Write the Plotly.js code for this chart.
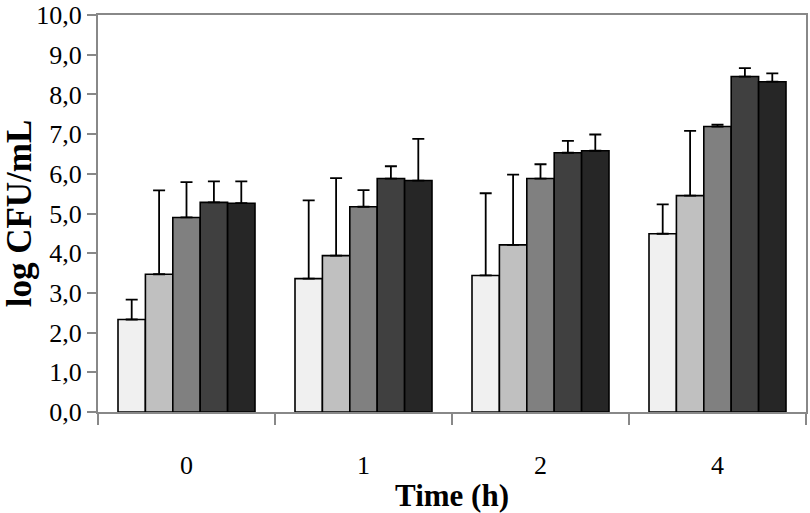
<!DOCTYPE html>
<html>
<head>
<meta charset="utf-8">
<script src="https://cdn.plot.ly/plotly-3.0.1.min.js"></script>
<style>html,body{margin:0;padding:0;background:#fff;}#chart{width:810px;height:513px;}</style>
</head>
<body>
<div id="chart"></div>
<script>
const times = ['0', '1', '2', '4'];
const s1 = [2.33, 3.36, 3.44, 4.49];
const s2 = [3.47, 3.94, 4.21, 5.45];
const s3 = [4.90, 5.17, 5.88, 7.19];
const s4 = [5.28, 5.88, 6.53, 8.45];
const s5 = [5.26, 5.83, 6.58, 8.32];
const e1 = [0.50, 1.97, 2.07, 0.74];
const e2 = [2.11, 1.95, 1.77, 1.63];
const e3 = [0.89, 0.42, 0.36, 0.05];
const e4 = [0.53, 0.31, 0.30, 0.21];
const e5 = [0.55, 1.05, 0.41, 0.21];
const colors = ['#f0f0f0', '#c0c0c0', '#808080', '#404040', '#262626'];

const series = [s1, s2, s3, s4, s5];
const errs = [e1, e2, e3, e4, e5];

const traces = series.map((s, i) => ({
  type: 'bar',
  x: times,
  y: s,
  marker: {color: colors[i], line: {color: '#000', width: 1.6}},
  error_y: {type: 'data', symmetric: false, array: errs[i], arrayminus: times.map(() => 0),
            color: '#000', thickness: 1.8, width: 6},
  showlegend: false,
  hoverinfo: 'y'
}));

const serif = 'Liberation Serif, Times New Roman, serif';
const tickFont = {family: serif, size: 26, color: '#000'};

const layout = {
  width: 810, height: 513,
  margin: {l: 98, r: 4, t: 15, b: 101},
  paper_bgcolor: '#fff', plot_bgcolor: '#fff',
  separators: ',.',
  barmode: 'group', bargap: 0.226, bargroupgap: 0,
  xaxis: {
    type: 'category', tickson: 'boundaries', ticks: 'outside', ticklen: 11, tickwidth: 2, tickcolor: '#888',
    showline: true, linecolor: '#888', linewidth: 2, mirror: true,
    tickfont: tickFont, showgrid: false, zeroline: false, ticklabelstandoff: 29,
    title: {text: '<b>Time (h)</b>', font: {family: serif, size: 31, color: '#000'}, standoff: 9}
  },
  yaxis: {
    range: [0, 10], dtick: 1, tickformat: '.1f', ticks: 'outside', ticklen: 9, tickwidth: 2, tickcolor: '#888',
    showline: true, linecolor: '#888', linewidth: 2, mirror: true, ticklabeloverflow: 'allow',
    tickfont: tickFont, showgrid: false, zeroline: false,
    title: {text: '<b>log CFU/mL</b>', font: {family: serif, size: 35, color: '#000'}, standoff: 10}
  }
};

Plotly.newPlot('chart', traces, layout, {displayModeBar: false, staticPlot: true});
</script>
</body>
</html>
